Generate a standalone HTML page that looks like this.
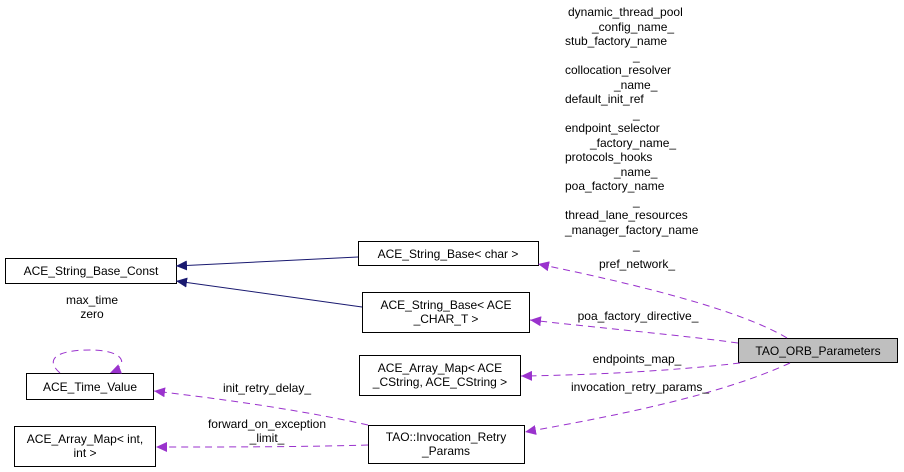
<!DOCTYPE html>
<html><head><style>
html,body{margin:0;padding:0;background:#fff;}
svg{display:block;font-family:"Liberation Sans",sans-serif;font-size:12px;}
</style></head><body>
<svg width="904" height="472" viewBox="0 0 904 472" xmlns="http://www.w3.org/2000/svg">
<defs>
<marker id="nv" markerWidth="12" markerHeight="10" refX="11" refY="5" orient="auto" markerUnits="userSpaceOnUse"><path d="M0,0 L11,5 L0,10 z" fill="#191970"/></marker>
<marker id="pu" markerWidth="12" markerHeight="10" refX="11" refY="5" orient="auto" markerUnits="userSpaceOnUse"><path d="M0,0 L11,5 L0,10 z" fill="#9a32cd"/></marker>
</defs>
<g fill="#fff" stroke="#000" stroke-width="1">
<rect x="5.5" y="258.5" width="171" height="25"/>
<rect x="358.5" y="241.5" width="180" height="24"/>
<rect x="362.5" y="292.5" width="167" height="40"/>
<rect x="26.5" y="373.5" width="127" height="26"/>
<rect x="14.5" y="426.5" width="141" height="40"/>
<rect x="359.5" y="355.5" width="161" height="40"/>
<rect x="368.5" y="425.5" width="156" height="38"/>
<rect x="738.5" y="338.5" width="159" height="24" fill="#bfbfbf"/>
</g>
<g fill="#000" text-anchor="middle">
<text x="91" y="275">ACE_String_Base_Const</text>
<text x="448" y="258">ACE_String_Base&lt; char &gt;</text>
<text x="446" y="309">ACE_String_Base&lt; ACE</text>
<text x="446" y="323">_CHAR_T &gt;</text>
<text x="90" y="391">ACE_Time_Value</text>
<text x="85" y="443">ACE_Array_Map&lt; int,</text>
<text x="85" y="457">int &gt;</text>
<text x="440" y="372">ACE_Array_Map&lt; ACE</text>
<text x="440" y="386">_CString, ACE_CString &gt;</text>
<text x="446" y="441">TAO::Invocation_Retry</text>
<text x="446" y="455">_Params</text>
<text x="818" y="355">TAO_ORB_Parameters</text>
</g>
<g fill="none" stroke="#191970" stroke-width="1">
<path d="M358,257 L176,266" marker-end="url(#nv)"/>
<path d="M362,307 L176,281" marker-end="url(#nv)"/>
</g>
<g fill="none" stroke="#9a32cd" stroke-width="1" stroke-dasharray="7,5">
<path d="M787,338 C740,310 640,285 538,264" marker-end="url(#pu)"/>
<path d="M738,343 C680,335 600,328 530,320" marker-end="url(#pu)"/>
<path d="M740,363 C680,370 600,375 521,376" marker-end="url(#pu)"/>
<path d="M790,363 C720,395 620,415 525,432" marker-end="url(#pu)"/>
<path d="M368,425 C300,410 230,400 154,391" marker-end="url(#pu)"/>
<path d="M368,445 C300,447 230,447 156,447" marker-end="url(#pu)"/>
<path d="M60,373 C45,360 55,350 90,350 C125,350 130,365 110,373" marker-end="url(#pu)"/>
</g>
<g fill="#000" text-anchor="middle">
<text x="92" y="304">max_time</text>
<text x="92" y="318">zero</text>
<text x="267" y="392">init_retry_delay_</text>
<text x="267" y="428">forward_on_exception</text>
<text x="267" y="442">_limit_</text>
<text x="637" y="268">pref_network_</text>
<text x="638" y="320">poa_factory_directive_</text>
<text x="637" y="363">endpoints_map_</text>
<text x="640" y="391">invocation_retry_params_</text>
</g>
<g fill="#000">
<text x="568" y="16">dynamic_thread_pool</text>
<text x="592" y="31">_config_name_</text>
<text x="565" y="45">stub_factory_name</text>
<text x="633" y="60">_</text>
<text x="565" y="74">collocation_resolver</text>
<text x="614" y="89">_name_</text>
<text x="565" y="103">default_init_ref</text>
<text x="633" y="118">_</text>
<text x="565" y="132">endpoint_selector</text>
<text x="590" y="147">_factory_name_</text>
<text x="565" y="161">protocols_hooks</text>
<text x="614" y="176">_name_</text>
<text x="565" y="190">poa_factory_name</text>
<text x="633" y="205">_</text>
<text x="565" y="219">thread_lane_resources</text>
<text x="565" y="234">_manager_factory_name</text>
<text x="633" y="249">_</text>
</g>
</svg>
</body></html>
